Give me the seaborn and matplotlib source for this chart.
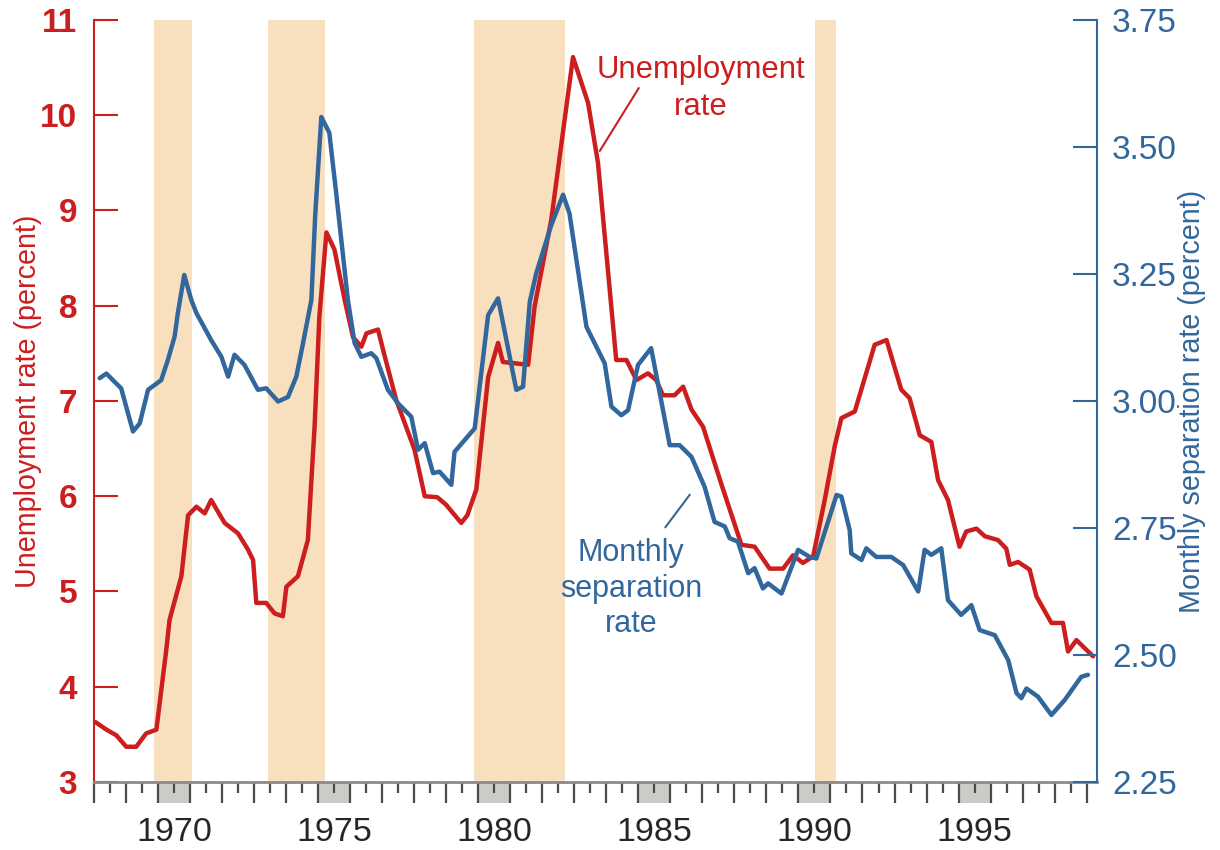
import numpy as np
import pandas as pd
import matplotlib
matplotlib.use("Agg")
import matplotlib.pyplot as plt
import matplotlib.transforms as mtransforms
from matplotlib.patches import Rectangle
import seaborn as sns

# unemployment rate (percent)
unemp_year = [1968.04, 1968.39, 1968.70, 1969.01, 1969.32, 1969.63, 1969.95, 1970.26, 1970.36, 1970.73,
              1970.94, 1971.20, 1971.46, 1971.66, 1972.08, 1972.50, 1972.81, 1972.97, 1973.07, 1973.38,
              1973.64, 1973.90, 1974.01, 1974.37, 1974.68, 1974.89, 1975.04, 1975.26, 1975.51, 1975.83,
              1976.09, 1976.35, 1976.51, 1976.87, 1977.08, 1977.44, 1978.01, 1978.33, 1978.72, 1979.00,
              1979.22, 1979.47, 1979.66, 1979.94, 1980.31, 1980.62, 1980.77, 1981.56, 1981.76, 1982.28,
              1982.96, 1983.43, 1983.74, 1984.31, 1984.63, 1984.94, 1985.30, 1985.56, 1985.77, 1986.13,
              1986.40, 1986.66, 1987.02, 1987.59, 1988.22, 1988.63, 1989.10, 1989.52, 1989.83, 1990.14,
              1990.46, 1990.82, 1991.13, 1991.34, 1991.76, 1992.38, 1992.75, 1993.21, 1993.47, 1993.79,
              1994.15, 1994.36, 1994.67, 1995.03, 1995.24, 1995.56, 1995.82, 1996.23, 1996.49, 1996.60,
              1996.86, 1997.22, 1997.43, 1997.90, 1998.26, 1998.42, 1998.68, 1999.20]
unemp_rate = [3.63, 3.55, 3.49, 3.37, 3.37, 3.51, 3.55, 4.39, 4.70, 5.16,
              5.80, 5.89, 5.82, 5.96, 5.72, 5.61, 5.44, 5.33, 4.88, 4.88,
              4.77, 4.74, 5.05, 5.16, 5.54, 6.73, 7.89, 8.77, 8.59, 8.06,
              7.67, 7.57, 7.71, 7.75, 7.47, 7.01, 6.49, 6.00, 5.99, 5.91,
              5.82, 5.72, 5.80, 6.07, 7.25, 7.61, 7.41, 7.38, 7.99, 8.90,
              10.61, 10.13, 9.50, 7.43, 7.43, 7.22, 7.29, 7.22, 7.06, 7.06,
              7.15, 6.91, 6.73, 6.13, 5.49, 5.47, 5.24, 5.24, 5.38, 5.30,
              5.37, 5.96, 6.52, 6.82, 6.89, 7.59, 7.64, 7.12, 7.03, 6.64,
              6.57, 6.17, 5.96, 5.47, 5.63, 5.66, 5.58, 5.54, 5.45, 5.28,
              5.31, 5.23, 4.95, 4.67, 4.67, 4.37, 4.49, 4.32]

# monthly separation rate (percent)
sep_year = [1968.18, 1968.39, 1968.64, 1968.85, 1969.22, 1969.43, 1969.69, 1970.10, 1970.31, 1970.52,
            1970.62, 1970.82, 1971.04, 1971.20, 1971.66, 1971.98, 1972.19, 1972.39, 1972.70, 1973.12,
            1973.38, 1973.75, 1974.06, 1974.32, 1974.53, 1974.79, 1974.91, 1975.10, 1975.35, 1975.57,
            1975.93, 1976.14, 1976.35, 1976.66, 1976.82, 1977.18, 1977.50, 1977.91, 1978.12, 1978.33,
            1978.59, 1978.79, 1979.16, 1979.26, 1979.89, 1980.31, 1980.62, 1981.19, 1981.40, 1981.61,
            1981.81, 1982.28, 1982.65, 1982.85, 1983.38, 1983.95, 1984.16, 1984.47, 1984.68, 1984.99,
            1985.40, 1985.98, 1986.29, 1986.66, 1987.07, 1987.38, 1987.70, 1987.85, 1988.11, 1988.43,
            1988.63, 1988.89, 1989.05, 1989.47, 1989.99, 1990.35, 1990.56, 1991.19, 1991.34, 1991.60,
            1991.65, 1991.97, 1992.12, 1992.43, 1992.90, 1993.27, 1993.74, 1993.94, 1994.15, 1994.46,
            1994.67, 1995.08, 1995.40, 1995.66, 1996.13, 1996.55, 1996.81, 1996.96, 1997.12, 1997.48,
            1997.90, 1998.31, 1998.83, 1999.04]
sep_rate = [3.045, 3.054, 3.038, 3.025, 2.940, 2.956, 3.022, 3.041, 3.081, 3.127,
            3.173, 3.248, 3.199, 3.173, 3.120, 3.087, 3.048, 3.091, 3.071, 3.022,
            3.025, 2.999, 3.008, 3.048, 3.114, 3.199, 3.366, 3.559, 3.528, 3.406,
            3.199, 3.114, 3.087, 3.094, 3.084, 3.022, 2.995, 2.969, 2.904, 2.917,
            2.858, 2.861, 2.835, 2.900, 2.946, 3.169, 3.202, 3.022, 3.028, 3.195,
            3.251, 3.346, 3.406, 3.369, 3.146, 3.074, 2.989, 2.972, 2.982, 3.071,
            3.104, 2.913, 2.913, 2.890, 2.831, 2.762, 2.753, 2.730, 2.723, 2.661,
            2.671, 2.631, 2.641, 2.621, 2.707, 2.693, 2.690, 2.815, 2.812, 2.746,
            2.700, 2.687, 2.710, 2.693, 2.693, 2.677, 2.625, 2.707, 2.697, 2.710,
            2.608, 2.579, 2.598, 2.549, 2.539, 2.490, 2.425, 2.415, 2.434, 2.418,
            2.382, 2.411, 2.457, 2.461]

# recessions (shaded)
rec_start = [1969.88, 1973.42, 1979.87, 1990.51]
rec_end = [1971.06, 1975.20, 1982.70, 1991.16]

label_years = [1970, 1975, 1980, 1985, 1990, 1995]
unemp_ticks = [3, 4, 5, 6, 7, 8, 9, 10, 11]
sep_ticks = [2.25, 2.50, 2.75, 3.00, 3.25, 3.50, 3.75]

unemp = pd.DataFrame({"year": unemp_year, "rate": unemp_rate})
sep = pd.DataFrame({"year": sep_year, "rate": sep_rate})

sns.set_style("white")
plt.rcParams["font.family"] = ["Liberation Sans", "DejaVu Sans"]

RED = "#cc1e1e"
BLUE = "#31679c"
SAND = "#f8dfbd"
GREY = "#cccbc7"
TICK = "#4a4a4a"

fig = plt.figure(figsize=(12.2, 8.5), dpi=100)
ax = fig.add_axes([0.0770, 0.0800, 0.8221, 0.8965])
ax2 = ax.twinx()

for s, e in zip(rec_start, rec_end):
    ax.axvspan(s, e, color=SAND, lw=0, zorder=0)

sns.lineplot(data=unemp, x="year", y="rate", ax=ax, color=RED, lw=3.2)
sns.lineplot(data=sep, x="year", y="rate", ax=ax2, color=BLUE, lw=3.2)

ax.set_xlim(1968.0, 1999.32)
ax.set_ylim(3, 11)
ax2.set_ylim(2.25, 3.75)

# x axis: long ticks at year boundaries, short mid-year, labels centred on the year
years = np.arange(1968, 2000)
ax.set_xticks(years, labels=[""] * len(years))
mids = years[:-1] + 0.5
ax.set_xticks(mids, labels=[str(y) if y in label_years else "" for y in years[:-1]], minor=True)
ax.tick_params(axis="x", which="both", bottom=True)
ax.tick_params(axis="x", which="major", direction="out", length=15, width=1.6, color=TICK)
ax.tick_params(axis="x", which="minor", direction="out", length=8, width=1.6, color=TICK,
               pad=17, labelsize=24.5, labelcolor="#262626")
trans = mtransforms.blended_transform_factory(ax.transData, ax.transAxes)
hbox = 21 / 762
for y in label_years:
    ax.add_patch(Rectangle((y, -hbox), 1, hbox, transform=trans, clip_on=False,
                           facecolor=GREY, lw=0, zorder=0.5))

ax.set_yticks(unemp_ticks)
ax.tick_params(axis="y", left=True, direction="in", length=17, width=1.5, color=RED,
               labelcolor=RED, labelsize=24, pad=12)
for t in ax.get_yticklabels():
    t.set_fontweight("bold")
ax2.set_yticks(sep_ticks, labels=[f"{v:.2f}" for v in sep_ticks])
ax2.tick_params(axis="y", right=True, direction="in", length=17, width=1.5, color=BLUE,
                labelcolor=BLUE, labelsize=24, pad=11)

for a in (ax, ax2):
    a.spines["top"].set_visible(False)
ax.spines["right"].set_visible(False)
ax2.spines["left"].set_visible(False)
ax2.spines["bottom"].set_visible(False)
ax.spines["left"].set_color(RED)
ax.spines["left"].set_linewidth(1.5)
ax2.spines["right"].set_color(BLUE)
ax2.spines["right"].set_linewidth(1.5)
ax.spines["bottom"].set_color("#8a8a8a")
ax.spines["bottom"].set_linewidth(2)

ax.set_xlabel("")
ax.set_ylabel("Unemployment rate (percent)", color=RED, fontsize=20.7)
ax.yaxis.set_label_coords(-0.052, 0.5)
ax2.set_ylabel("Monthly separation rate (percent)", color=BLUE, fontsize=20.7)
ax2.yaxis.set_label_coords(1.081, 0.5)

# series annotations
ax.text(1986.94, 10.28, "Unemployment\nrate", color=RED, fontsize=22.3, ha="center",
        va="center", linespacing=1.3)
ax.annotate("", xy=(1983.75, 9.60), xytext=(1985.06, 10.31),
            arrowprops=dict(arrowstyle="-", color=RED, lw=1.5))
ax.text(1984.78, 5.03, "Monthly\nseparation\nrate", color=BLUE, fontsize=22, ha="center",
        va="center", linespacing=1.25)
ax.annotate("", xy=(1985.79, 5.65), xytext=(1986.66, 6.04),
            arrowprops=dict(arrowstyle="-", color=BLUE, lw=1.5))

fig.savefig("out.png", dpi=100)
